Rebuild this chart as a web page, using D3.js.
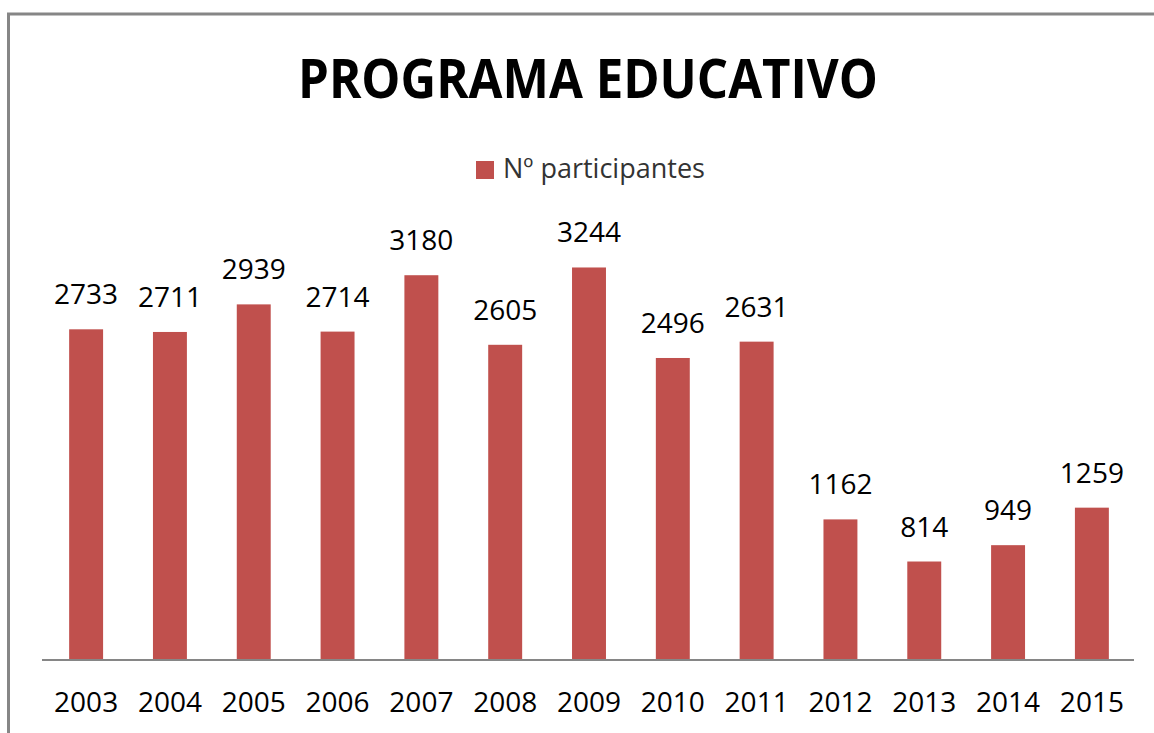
<!DOCTYPE html>
<html lang="en">
<head>
    <meta charset="utf-8">
    <title>Programa educativo</title>
    <script src="https://d3js.org/d3.v7.min.js"></script>
    <style type="text/css">
        body{
            margin: 0;
            background: #fff;
        }
        svg{
            display: block;
            font-family: "Open Sans", sans-serif;
        }
    </style>
</head>
<body>
    <div id="chart"></div>

    <script type="text/javascript">

        const years = ['2003','2004','2005','2006','2007','2008','2009','2010','2011','2012','2013','2014','2015']
        const participantes = [2733,2711,2939,2714,3180,2605,3244,2496,2631,1162,814,949,1259]
        const seriesName = 'Nº participantes'
        const title = 'PROGRAMA EDUCATIVO'

        const width = 1154;
        const height = 733;
        const barColor = '#C0504D';

        const svg = d3.select('#chart')
            .append('svg')
            .attr('width', width)
            .attr('height', height);

        // frame (only left + top visible in the original crop)
        svg.append('rect')
            .attr('x', 8.5)
            .attr('y', 14)
            .attr('width', 1300)
            .attr('height', 900)
            .attr('fill', 'none')
            .attr('stroke', '#868686')
            .attr('stroke-width', 3);

        const x = d3.scaleBand()
            .domain(years)
            .range([44, 1134])
            .paddingInner(0.595)
            .paddingOuter(0.3);

        const y = d3.scaleLinear()
            .domain([0, 3500])
            .range([660, 236.5]);

        // title
        svg.append('text')
            .attr('x', 588)
            .attr('y', 98)
            .attr('text-anchor', 'middle')
            .attr('font-size', 54)
            .attr('font-weight', 'bold')
            .attr('textLength', 580)
            .attr('lengthAdjust', 'spacingAndGlyphs')
            .attr('fill', '#000')
            .text(title);

        // legend
        const legend = svg.append('g').attr('transform', 'translate(476,161)');
        legend.append('rect')
            .attr('width', 18)
            .attr('height', 18)
            .attr('fill', barColor);
        legend.append('text')
            .attr('x', 27)
            .attr('y', 17)
            .attr('font-size', 27)
            .attr('fill', '#333')
            .text(seriesName);

        // bars
        svg.selectAll('rect.bar')
            .data(participantes)
            .enter()
            .append('rect')
            .attr('class', 'bar')
            .attr('x', (d, i) => x(years[i]))
            .attr('y', d => y(d))
            .attr('width', x.bandwidth())
            .attr('height', d => y(0) - y(d))
            .attr('fill', barColor);

        // value labels
        svg.selectAll('text.val')
            .data(participantes)
            .enter()
            .append('text')
            .attr('class', 'val')
            .attr('x', (d, i) => x(years[i]) + x.bandwidth() / 2)
            .attr('y', d => y(d) - 25)
            .attr('text-anchor', 'middle')
            .attr('font-size', 28)
            .attr('fill', '#000')
            .text(d => d);

        // x axis
        const xAxis = svg.append('g')
            .attr('transform', 'translate(0,660)')
            .call(d3.axisBottom(x).tickSize(0).tickPadding(0));
        xAxis.select('.domain').remove();
        xAxis.selectAll('text')
            .attr('y', 52)
            .attr('dy', 0)
            .attr('font-size', 28)
            .attr('font-family', '"Open Sans", sans-serif')
            .attr('fill', '#000');

        svg.append('line')
            .attr('x1', 42)
            .attr('x2', 1134)
            .attr('y1', y(0))
            .attr('y2', y(0))
            .attr('stroke', '#868686')
            .attr('stroke-width', 2);
    </script>
</body>
</html>
